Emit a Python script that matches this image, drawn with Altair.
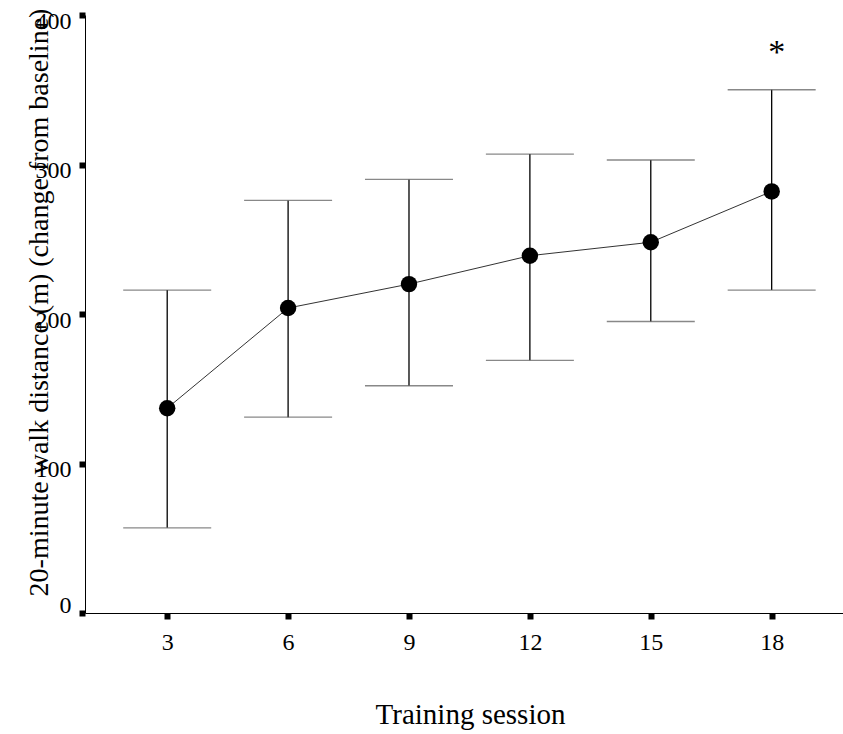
import altair as alt
import pandas as pd

sessions = [3, 6, 9, 12, 15, 18]
means = [137, 204, 220, 239, 248, 282]
upper = [216, 276, 290, 307, 303, 350]
lower = [57, 131, 152, 169, 195, 216]

sig_sessions = [18]
sig_values = [368]
sig_labels = ["*"]

y_ticks = [0, 100, 200, 300, 400]

df = pd.DataFrame({"session": sessions, "mean": means, "upper": upper, "lower": lower})
sig = pd.DataFrame({"session": sig_sessions, "value": sig_values, "label": sig_labels})

FONT = "Liberation Serif"

x_enc = alt.X(
    "session:Q",
    scale=alt.Scale(domain=[0.96, 19.77], nice=False, zero=False),
    axis=alt.Axis(
        values=sessions,
        title="Training session",
        grid=False,
        domainColor="black",
        domainWidth=1,
        tickColor="black",
        tickSize=6,
        tickWidth=6,
        labelFont=FONT,
        labelFontSize=24,
        labelColor="black",
        labelPadding=11,
        titleFont=FONT,
        titleFontSize=29,
        titleFontWeight="normal",
        titleColor="black",
        titleX=385,
        titleY=110,
        titleAlign="center",
        titleBaseline="alphabetic",
    ),
)

y_axis = alt.Axis(
    values=y_ticks,
    title="20-minute walk distance (m) (change from baseline)",
    grid=False,
    domainColor="black",
    domainWidth=1,
    tickColor="black",
    tickSize=6,
    tickWidth=6,
    labelFont=FONT,
    labelFontSize=24,
    labelColor="black",
    labelPadding=8,
    labelBaseline="middle",
    labelFlush=False,
    labelOffset={"condition": {"test": "datum.value == 0", "value": -8}, "value": 6},
    titleFont=FONT,
    titleFontSize=28,
    titleFontWeight="normal",
    titleColor="black",
    titleAngle=270,
    titleX=-38,
    titleY=287,
    titleAlign="center",
    titleBaseline="alphabetic",
)

y_scale = alt.Scale(domain=[0, 400], nice=False, zero=True)

base = alt.Chart(df)

bars = base.mark_rule(color="black", strokeWidth=1.3).encode(
    x=x_enc,
    y=alt.Y("lower:Q", scale=y_scale, axis=y_axis),
    y2="upper:Q",
)

cap_top = base.mark_tick(orient="horizontal", size=88, thickness=1.3, color="#555555").encode(
    x=x_enc,
    y=alt.Y("upper:Q", scale=y_scale, axis=y_axis),
)
cap_bot = base.mark_tick(orient="horizontal", size=88, thickness=1.3, color="#555555").encode(
    x=x_enc,
    y=alt.Y("lower:Q", scale=y_scale, axis=y_axis),
)

line = base.mark_line(color="#333333", strokeWidth=1).encode(
    x=x_enc,
    y=alt.Y("mean:Q", scale=y_scale, axis=y_axis),
)

points = base.mark_circle(color="black", opacity=1, size=270).encode(
    x=x_enc,
    y=alt.Y("mean:Q", scale=y_scale, axis=y_axis),
)

star = alt.Chart(sig).mark_text(
    font=FONT, fontSize=34, color="black", dx=5, baseline="alphabetic", align="center"
).encode(
    x=x_enc,
    y=alt.Y("value:Q", scale=y_scale, axis=y_axis),
    text="label:N",
)

chart = alt.layer(bars, cap_top, cap_bot, line, points, star).properties(
    width=758,
    height=598,
    autosize=alt.AutoSizeParams(type="none"),
    padding={"left": 85, "top": 15, "right": 0, "bottom": 121},
    background="white",
).configure_view(stroke="transparent")

chart.save("out.html", embed_options={"renderer": "svg", "actions": False})
